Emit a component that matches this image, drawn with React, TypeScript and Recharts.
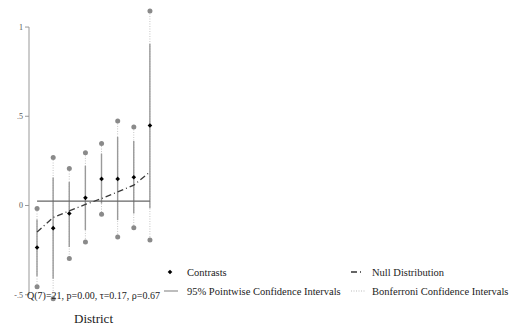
import React from 'react';
import { ComposedChart, XAxis, YAxis, Bar, Line, Scatter, ReferenceLine } from 'recharts';

// District contrasts with pointwise and Bonferroni intervals
const districts = [1, 2, 3, 4, 5, 6, 7, 8];
const contrasts = [-0.235, -0.127, -0.045, 0.043, 0.149, 0.149, 0.158, 0.448];
const pointwiseLow = [-0.396, -0.411, -0.232, -0.138, 0.011, -0.082, -0.045, -0.015];
const pointwiseHigh = [-0.078, 0.157, 0.132, 0.223, 0.291, 0.384, 0.362, 0.907];
const bonferroniLow = [-0.456, -0.523, -0.297, -0.204, -0.049, -0.176, -0.125, -0.194];
const bonferroniHigh = [-0.017, 0.269, 0.207, 0.295, 0.347, 0.474, 0.44, 1.09];
const nullDistribution = [-0.148, -0.067, -0.03, 0.006, 0.039, 0.076, 0.114, 0.188];
const overallMean = 0.024;
const yTicks = [-0.5, 0, 0.5, 1];
const yTickLabels = ['-.5', '0', '.5', '1'];
const statsNote = 'Q(7)=21, p=0.00, \u03c4=0.17, \u03c1=0.67';
const xTitle = 'District';

const data = districts.map((d, i) => ({
  d,
  contrast: contrasts[i],
  pointwise: [pointwiseLow[i], pointwiseHigh[i]],
  bonferroni: [bonferroniLow[i], bonferroniHigh[i]],
  bonfLow: bonferroniLow[i],
  bonfHigh: bonferroniHigh[i],
  nullDist: nullDistribution[i],
  mean: overallMean,
}));

const FONT = '"Liberation Serif", "Times New Roman", serif';

const makeVLine = (stroke: string, width: number, dash?: string) => (p: any) => {
  const cx = p.x + p.width / 2;
  return (
    <line
      x1={cx}
      x2={cx}
      y1={p.y}
      y2={p.y + p.height}
      stroke={stroke}
      strokeWidth={width}
      strokeDasharray={dash}
    />
  );
};

const GrayDot = (p: any) => <circle cx={p.cx} cy={p.cy} r={2.5} fill="#8a8a8a" />;
const Diamond = (p: any) => (
  <path
    d={`M${p.cx},${p.cy - 2.3}L${p.cx + 2.3},${p.cy}L${p.cx},${p.cy + 2.3}L${p.cx - 2.3},${p.cy}Z`}
    fill="#000"
  />
);

const tickLabel = (v: number) => {
  const i = yTicks.indexOf(v);
  return i >= 0 ? yTickLabels[i] : String(v);
};

const legendItems = [
  { label: 'Contrasts', kind: 'marker', left: 164, top: 272 },
  { label: 'Null Distribution', kind: 'dashdot', left: 349, top: 272 },
  { label: '95% Pointwise Confidence Intervals', kind: 'solid', left: 164, top: 291 },
  { label: 'Bonferroni Confidence Intervals', kind: 'dotted', left: 349, top: 291 },
];

const Swatch = ({ kind }: { kind: string }) => (
  <svg width={16} height={8} style={{ display: 'block' }}>
    {kind === 'marker' && <path d="M6,1.7L8.3,4L6,6.3L3.7,4Z" fill="#000" />}
    {kind === 'dashdot' && (
      <line x1={2} x2={14} y1={4} y2={4} stroke="#333" strokeWidth={1.6} strokeDasharray="6 3 1 3" />
    )}
    {kind === 'solid' && <line x1={0} x2={14} y1={4} y2={4} stroke="#999" strokeWidth={1.3} />}
    {kind === 'dotted' && (
      <line x1={2} x2={16} y1={4} y2={4} stroke="#bbb" strokeWidth={1} strokeDasharray="1 1.5" />
    )}
  </svg>
);

export default function App() {
  return (
    <div style={{ position: 'absolute', left: 0, top: 0, width: 515, height: 327, background: '#fff' }}>
      <ComposedChart
        width={515}
        height={327}
        data={data}
        margin={{ top: 6, right: 357, bottom: 23, left: 0 }}
        barGap={-2}
      >
        <XAxis type="number" dataKey="d" domain={[0.5, 8.5]} hide />
        <YAxis
          type="number"
          domain={[-0.552, 1.118]}
          ticks={yTicks}
          tickFormatter={tickLabel}
          width={29}
          axisLine={false}
          tickLine={{ stroke: '#999' }}
          tickSize={4}
          tick={{ fontSize: 8, fill: '#555', fontFamily: FONT }}
        />
        <ReferenceLine
          segment={[{ x: 0.5, y: -0.5 }, { x: 0.5, y: 1 }]}
          stroke="#999"
          strokeWidth={1}
        />
        <Bar
          dataKey="bonferroni"
          barSize={2}
          isAnimationActive={false}
          shape={makeVLine('#c4c4c4', 1, '1 1.5')}
        />
        <Bar
          dataKey="pointwise"
          barSize={2}
          isAnimationActive={false}
          shape={makeVLine('#9a9a9a', 1.4)}
        />
        <Line
          dataKey="mean"
          stroke="#666"
          strokeWidth={1.2}
          dot={false}
          isAnimationActive={false}
        />
        <Line
          dataKey="nullDist"
          type="linear"
          stroke="#3a3a3a"
          strokeWidth={1.3}
          strokeDasharray="6 3 1 3"
          dot={false}
          isAnimationActive={false}
        />
        <Scatter dataKey="bonfHigh" shape={GrayDot} isAnimationActive={false} />
        <Scatter dataKey="bonfLow" shape={GrayDot} isAnimationActive={false} />
        <Scatter dataKey="contrast" shape={Diamond} isAnimationActive={false} />
      </ComposedChart>

      <div
        style={{
          position: 'absolute',
          left: 0,
          width: 187,
          top: 289,
          textAlign: 'center',
          fontFamily: FONT,
          fontSize: 10,
          lineHeight: '14px',
          color: '#222',
          whiteSpace: 'nowrap',
        }}
      >
        {statsNote}
      </div>
      <div
        style={{
          position: 'absolute',
          left: 0,
          width: 187,
          top: 311,
          textAlign: 'center',
          fontFamily: FONT,
          fontSize: 13,
          lineHeight: '16px',
          color: '#222',
        }}
      >
        {xTitle}
      </div>

      {legendItems.map((it) => (
        <div
          key={it.label}
          style={{
            position: 'absolute',
            left: it.left,
            top: it.top - 7,
            height: 14,
            display: 'flex',
            alignItems: 'center',
            fontFamily: FONT,
            fontSize: 10.5,
            color: '#222',
            whiteSpace: 'nowrap',
          }}
        >
          <Swatch kind={it.kind} />
          <span style={{ marginLeft: 7 }}>{it.label}</span>
        </div>
      ))}
    </div>
  );
}
